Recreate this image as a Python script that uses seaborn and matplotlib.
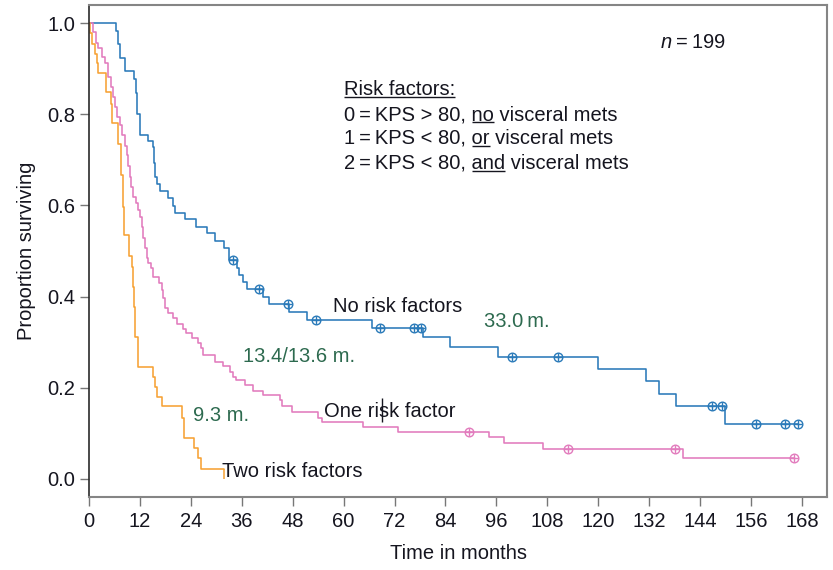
import numpy as np
import pandas as pd
import matplotlib
matplotlib.use("Agg")
import matplotlib.pyplot as plt
import seaborn as sns

# Kaplan-Meier step data: event times (months) and survival after each step
t_none = [0, 6.3, 6.75, 7.3, 8.5, 10.7, 11.0, 11.2, 12.0, 14.0, 15.0, 15.3, 15.5,
          16.1, 16.7, 18.5, 19.7, 20.3, 22.6, 25.1, 27.7, 29.7, 31.8, 33.0, 34.8,
          35.4, 36.4, 37.2, 41.1, 42.3, 47.2, 51.4, 66.6, 78.8, 85.1, 96.3, 119.9,
          131.2, 134.3, 138.3, 149.9]
s_none = [1.0, 0.983, 0.955, 0.924, 0.894, 0.877, 0.846, 0.800, 0.754, 0.741, 0.729,
          0.692, 0.663, 0.648, 0.632, 0.616, 0.599, 0.583, 0.570, 0.553, 0.539, 0.523,
          0.506, 0.480, 0.462, 0.447, 0.433, 0.417, 0.400, 0.383, 0.367, 0.349, 0.332,
          0.311, 0.290, 0.268, 0.241, 0.215, 0.186, 0.161, 0.121]
cens_none = [33.9, 40.1, 46.8, 53.4, 68.6, 76.6, 78.2, 99.6, 110.6, 146.9, 149.1,
             157.2, 164.0, 167.1]

t_one = [0, 1.0, 1.6, 2.2, 3.0, 3.8, 4.5, 5.1, 5.7, 6.1, 6.6, 7.3, 7.8, 8.4, 8.9,
         9.2, 9.6, 9.9, 10.4, 11.1, 11.6, 12.0, 12.4, 12.8, 13.2, 13.6, 14.0, 14.5,
         15.0, 16.6, 17.1, 17.5, 17.9, 18.7, 19.9, 20.7, 22.2, 22.9, 24.2, 25.8,
         26.3, 26.9, 29.7, 31.6, 33.2, 34.0, 34.6, 36.8, 38.7, 41.1, 45.0, 45.4,
         47.8, 54.0, 54.8, 64.6, 72.9, 94.2, 97.8, 106.9, 139.9]
s_one = [1.0, 0.980, 0.956, 0.945, 0.926, 0.912, 0.882, 0.860, 0.838, 0.816, 0.794,
         0.776, 0.754, 0.730, 0.711, 0.686, 0.663, 0.641, 0.619, 0.605, 0.590, 0.575,
         0.553, 0.528, 0.506, 0.484, 0.473, 0.462, 0.444, 0.429, 0.414, 0.396, 0.374,
         0.363, 0.352, 0.341, 0.330, 0.320, 0.309, 0.298, 0.287, 0.272, 0.257, 0.248,
         0.235, 0.224, 0.216, 0.206, 0.193, 0.184, 0.173, 0.160, 0.148, 0.133, 0.126,
         0.113, 0.102, 0.091, 0.078, 0.065, 0.045]
cens_one = [89.5, 112.9, 138.1, 166.2]

t_two = [0, 0.24, 0.8, 1.4, 1.8, 2.2, 4.0, 5.1, 5.5, 6.8, 7.5, 7.9, 8.3, 9.5, 10.1,
         10.4, 10.6, 10.8, 11.6, 15.0, 15.6, 16.1, 17.1, 21.8, 22.4, 24.7, 25.8, 26.3]
s_two = [1.0, 0.977, 0.955, 0.933, 0.912, 0.890, 0.849, 0.822, 0.780, 0.734, 0.667,
         0.597, 0.535, 0.488, 0.466, 0.422, 0.378, 0.312, 0.246, 0.224, 0.202, 0.180,
         0.159, 0.133, 0.089, 0.067, 0.045, 0.021]
end_two = 31.7

groups = ["No risk factors", "One risk factor", "Two risk factors"]
medians = ["33.0\u2009m.", "13.4/13.6 m.", "9.3 m."]
colors = ["#2a7ab9", "#e27bbd", "#f7a234"]
text_green = "#2d6a4f"
text_dark = "#15151f"

ends = [cens_none[-1], cens_one[-1], end_two]
curves = [(t_none, s_none), (t_one, s_one), (t_two, s_two)]
censors = [cens_none, cens_one, []]

frames = []
for g, (t, s), e in zip(groups, curves, ends):
    frames.append(pd.DataFrame({"group": g, "month": list(t) + [e],
                                "surv": list(s) + [s[-1]]}))
df = pd.concat(frames, ignore_index=True)


def surv_at(t, s, x):
    idx = np.searchsorted(t, x, side="right") - 1
    return np.asarray(s)[idx]


sns.set_theme(style="white")
plt.rcParams["font.family"] = ["Liberation Sans", "DejaVu Sans"]
plt.rcParams["mathtext.fontset"] = "custom"
plt.rcParams["mathtext.rm"] = "Liberation Sans"
plt.rcParams["mathtext.it"] = "Liberation Sans:italic"

fig = plt.figure(figsize=(8.33, 5.70), dpi=100)
ax = fig.add_axes([89 / 833, 1 - 497 / 570, 738 / 833, 492 / 570])

sns.lineplot(data=df, x="month", y="surv", hue="group", palette=colors,
             hue_order=groups, drawstyle="steps-post", estimator=None, sort=False,
             legend=False, linewidth=1.15, ax=ax)

# censoring marks (circle with cross)
for (t, s), cens, c in zip(curves, censors, colors):
    if not cens:
        continue
    cy = surv_at(t, s, cens)
    ax.plot(cens, cy, linestyle="none", marker="o", ms=6.2, mfc="none", mec=c, mew=1.0)
    ax.plot(cens, cy, linestyle="none", marker="+", ms=6.2, mec=c, mew=1.0)

# tick at end of the two-risk-factor curve
ax.vlines(end_two, 0.0, s_two[-1], color=colors[2], lw=1.1)
ax.vlines(69.0, 0.126, 0.178, color=text_dark, lw=1.0)

ax.set_xlim(0, 173.9)
ax.set_ylim(-0.0395, 1.0395)
ax.set_xticks(np.arange(0, 169, 12))
ax.set_yticks([0.0, 0.2, 0.4, 0.6, 0.8, 1.0])
ax.set_yticklabels(["0.0", "0.2", "0.4", "0.6", "0.8", "1.0"])

fs = 14.5
ax.tick_params(axis="both", which="major", labelsize=fs, colors="#777777",
               labelcolor=text_dark, length=6.2, width=1.0, direction="out")
ax.tick_params(axis="x", pad=4.5, bottom=True)
ax.tick_params(axis="y", pad=3.5, left=True)

for side in ["top", "right", "bottom"]:
    ax.spines[side].set_color("#858585")
    ax.spines[side].set_linewidth(1.5)
ax.spines["left"].set_color("#2a2a2a")
ax.spines["left"].set_linewidth(1.2)

ax.set_xlabel("Time in months", fontsize=fs, color=text_dark)
ax.set_ylabel("Proportion surviving", fontsize=fs, color=text_dark)
ax.xaxis.set_label_coords(0.501, -0.095)
ax.yaxis.set_label_coords(-0.0715, 0.5)

# curve labels and medians
ax.text(57.5, 0.367, groups[0], fontsize=fs, color=text_dark, va="baseline")
ax.text(55.4, 0.136, groups[1], fontsize=fs, color=text_dark, va="baseline")
ax.text(31.3, 0.004, groups[2], fontsize=fs, color=text_dark, va="baseline")
ax.text(93.1, 0.334, medians[0], fontsize=fs, color=text_green, va="baseline")
ax.text(36.4, 0.257, medians[1], fontsize=fs, color=text_green, va="baseline")
ax.text(24.4, 0.128, medians[2], fontsize=fs, color=text_green, va="baseline")

ax.text(134.5, 0.945, r"$n$" + "\u2009=\u2009199", fontsize=fs, color=text_dark,
        va="baseline")

# risk factor key with underlined words
key_lines = [
    [("Risk factors:", True)],
    [("0\u2009=\u2009KPS > 80, ", False), ("no", True), (" visceral mets", False)],
    [("1\u2009=\u2009KPS < 80, ", False), ("or", True), (" visceral mets", False)],
    [("2\u2009=\u2009KPS < 80, ", False), ("and", True), (" visceral mets", False)],
]
key_y = [0.842, 0.787, 0.735, 0.680]
key_x = 60.1

fig.canvas.draw()
renderer = fig.canvas.get_renderer()
inv = ax.transData.inverted()


def text_extent(s, x, y):
    tmp = ax.text(x, y, s, fontsize=fs, va="baseline")
    ext = tmp.get_window_extent(renderer)
    tmp.remove()
    return ext


for parts, y in zip(key_lines, key_y):
    full = "".join(p for p, _ in parts)
    ax.text(key_x, y, full, fontsize=fs, color=text_dark, va="baseline")
    base_px = ax.transData.transform((key_x, y))[1]
    prefix = ""
    for p, under in parts:
        if under:
            x1 = text_extent(prefix + p, key_x, y).x1
            w = text_extent(p, key_x, y).width
            x0 = x1 - w
            (dx0, dy), (dx1, _) = inv.transform([(x0, base_px - 2.2), (x1, base_px - 2.2)])
            ax.plot([dx0, dx1], [dy, dy], color=text_dark, lw=1.0, solid_capstyle="butt")
        prefix += p

fig.savefig("out.png", dpi=100)
